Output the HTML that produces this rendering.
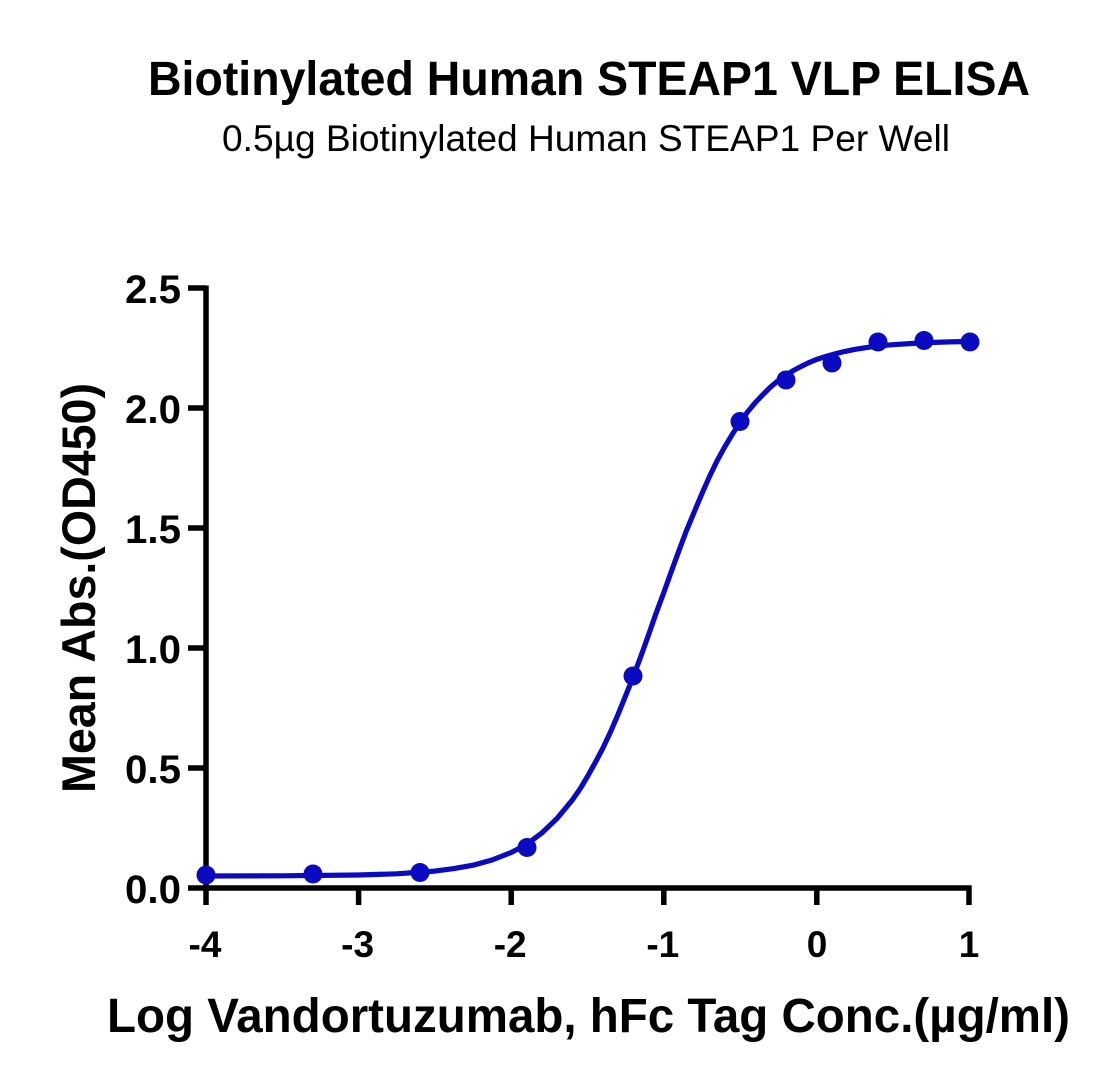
<!DOCTYPE html>
<html>
<head>
<meta charset="utf-8">
<style>
html,body{margin:0;padding:0;background:#fff;}
svg{display:block;}
text{font-family:"Liberation Sans",sans-serif;fill:#000;}
</style>
</head>
<body>
<svg width="1116" height="1087" viewBox="0 0 1116 1087" xmlns="http://www.w3.org/2000/svg">
<rect width="1116" height="1087" fill="#fff"/>
<!-- Titles -->
<text x="148" y="95" font-size="48" font-weight="bold" textLength="882" lengthAdjust="spacingAndGlyphs">Biotinylated Human STEAP1 VLP ELISA</text>
<text x="222" y="151" font-size="37" textLength="728" lengthAdjust="spacingAndGlyphs">0.5µg Biotinylated Human STEAP1 Per Well</text>

<!-- Axes -->
<g stroke="#000" stroke-width="5.5" fill="none">
<line x1="206" y1="285.5" x2="206" y2="890.5"/>
<line x1="203.5" y1="888" x2="971.5" y2="888"/>
<!-- y ticks -->
<line x1="188" y1="288" x2="206" y2="288"/>
<line x1="188" y1="408" x2="206" y2="408"/>
<line x1="188" y1="528" x2="206" y2="528"/>
<line x1="188" y1="648" x2="206" y2="648"/>
<line x1="188" y1="768" x2="206" y2="768"/>
<line x1="188" y1="888" x2="206" y2="888"/>
<!-- x ticks -->
<line x1="206" y1="888" x2="206" y2="905"/>
<line x1="358.6" y1="888" x2="358.6" y2="905"/>
<line x1="511.2" y1="888" x2="511.2" y2="905"/>
<line x1="663.8" y1="888" x2="663.8" y2="905"/>
<line x1="816.8" y1="888" x2="816.8" y2="905"/>
<line x1="969" y1="885.5" x2="969" y2="905"/>
</g>

<!-- y tick labels -->
<g font-size="40" font-weight="bold" text-anchor="end">
<text x="181" y="303" textLength="56" lengthAdjust="spacingAndGlyphs">2.5</text>
<text x="181" y="423" textLength="56" lengthAdjust="spacingAndGlyphs">2.0</text>
<text x="181" y="543" textLength="56" lengthAdjust="spacingAndGlyphs">1.5</text>
<text x="181" y="663" textLength="56" lengthAdjust="spacingAndGlyphs">1.0</text>
<text x="181" y="783" textLength="56" lengthAdjust="spacingAndGlyphs">0.5</text>
<text x="181" y="903" textLength="56" lengthAdjust="spacingAndGlyphs">0.0</text>
</g>
<!-- x tick labels -->
<g font-size="37" font-weight="bold" text-anchor="middle">
<text x="205" y="957">-4</text>
<text x="357.6" y="957">-3</text>
<text x="510.2" y="957">-2</text>
<text x="662.8" y="957">-1</text>
<text x="817" y="957">0</text>
<text x="969" y="957">1</text>
</g>

<!-- axis titles -->
<text x="107" y="1032" font-size="48" font-weight="bold" textLength="963" lengthAdjust="spacingAndGlyphs">Log Vandortuzumab, hFc Tag Conc.(µg/ml)</text>
<text transform="translate(95,793) rotate(-90)" x="0" y="0" font-size="47" font-weight="bold" textLength="410" lengthAdjust="spacingAndGlyphs">Mean Abs.(OD450)</text>

<!-- fitted curve -->
<polyline fill="none" stroke="#0a0ac0" stroke-width="5.2" stroke-linejoin="round" stroke-linecap="round"
points="206,876 282.3,875.8 358.6,875 396.75,873.8 434.9,871.1 454,868.6 473.05,865.2 492,860 511.2,852.5 526.5,844.5 541.7,833.1 557,818.5 572.2,800.2 580,789 587.5,776.5 595,763 602.8,748.3 610.5,732 618,714.5 625.5,696 633.3,676.6 641,656 648.5,635 656,613.5 663.8,592.5 671.5,571 679,550.5 686.5,530.5 694.3,511.7 702,493.5 709.5,476.5 717,461 724.8,446.8 732.5,434 740,422.5 747.5,412 755.4,402.5 763,394.5 770.6,387 778,380.7 785.9,375.2 793.5,370.5 801,366.5 808.5,362.8 816.4,359.5 826,356.4 835.5,353.8 845,351.4 854.5,349.4 864,347.9 873.5,346.6 883,345.6 892.7,344.7 911.7,343.5 930.8,342.5 950,341.9 969,341.5"/>

<!-- data points -->
<g fill="#0a0ac0">
<circle cx="206" cy="875" r="9.5"/>
<circle cx="313" cy="874" r="9.5"/>
<circle cx="420" cy="872.5" r="9.5"/>
<circle cx="527" cy="847.5" r="9.5"/>
<circle cx="633" cy="676" r="9.5"/>
<circle cx="740" cy="421.5" r="9.5"/>
<circle cx="786" cy="380" r="9.5"/>
<circle cx="832" cy="363" r="9.5"/>
<circle cx="878" cy="342" r="9.5"/>
<circle cx="924" cy="340.5" r="9.5"/>
<circle cx="970" cy="342" r="9.5"/>
</g>
</svg>
</body>
</html>
